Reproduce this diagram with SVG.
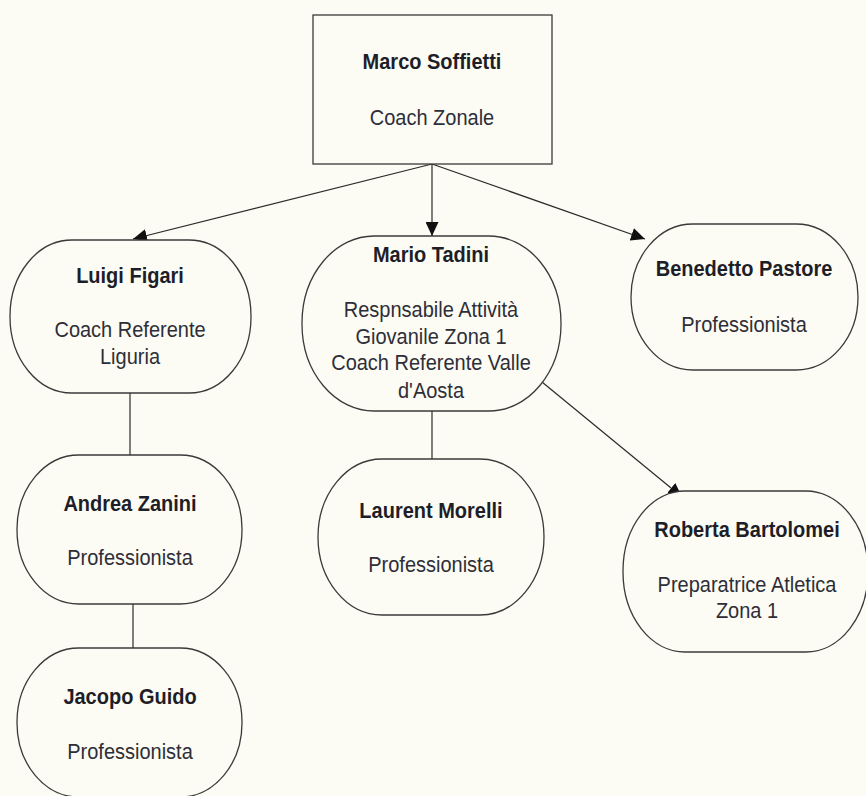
<svg xmlns="http://www.w3.org/2000/svg" width="866" height="796" viewBox="0 0 866 796">
<style>
.bg{fill:#fcfcf4}
.node{fill:#fcfcf4;stroke:#3a3a3a;stroke-width:1.3}
.con{stroke:#2a2a2a;stroke-width:1.2;fill:none}
.name{font-family:"Liberation Sans",Arial,sans-serif;font-size:20px;font-weight:bold;fill:#1e1e28;text-anchor:middle}
.role{font-family:"Liberation Sans",Arial,sans-serif;font-size:20px;fill:#2e2e38;text-anchor:middle}
</style>
<defs>
<marker id="arr" markerUnits="userSpaceOnUse" markerWidth="15" markerHeight="13" refX="14" refY="6.5" orient="auto">
<path d="M0,0 L14,6.5 L0,13 z" fill="#111"/>
</marker>
</defs>
<rect class="bg" x="0" y="0" width="866" height="796"/>
<g id="connectors">
<line class="con" x1="432" y1="164" x2="133" y2="239" marker-end="url(#arr)"/>
<line class="con" x1="432" y1="164" x2="432" y2="236" marker-end="url(#arr)"/>
<line class="con" x1="432" y1="164" x2="645" y2="239" marker-end="url(#arr)"/>
<line class="con" x1="542" y1="382" x2="682" y2="497" marker-end="url(#arr)"/>
<line class="con" x1="130" y1="393" x2="130" y2="455"/>
<line class="con" x1="133" y1="604" x2="133" y2="648"/>
<line class="con" x1="432" y1="411" x2="432" y2="459"/>
</g>
<g id="marco">
<rect class="node" x="313" y="15" width="239" height="149"/>
<text class="name" transform="translate(432 69) scale(1 1.12)">Marco Soffietti</text>
<text class="role" transform="translate(432 125) scale(1 1.12)">Coach Zonale</text>
</g>
<g id="luigi">
<rect class="node" x="10" y="240" width="241" height="153" rx="62" ry="76"/>
<text class="name" transform="translate(130 283) scale(1 1.12)">Luigi Figari</text>
<text class="role" transform="translate(130 337) scale(1 1.12)">Coach Referente</text>
<text class="role" transform="translate(130 364) scale(1 1.12)">Liguria</text>
</g>
<g id="mario">
<rect class="node" x="302" y="236" width="259" height="175" rx="72" ry="87"/>
<text class="name" transform="translate(431 262) scale(1 1.12)">Mario Tadini</text>
<text class="role" transform="translate(431 317) scale(1 1.12)">Respnsabile Attività</text>
<text class="role" transform="translate(431 344) scale(1 1.12)">Giovanile Zona 1</text>
<text class="role" transform="translate(431 370) scale(1 1.12)">Coach Referente Valle</text>
<text class="role" transform="translate(431 398) scale(1 1.12)">d'Aosta</text>
</g>
<g id="benedetto">
<rect class="node" x="631" y="224" width="227" height="146" rx="62" ry="73"/>
<text class="name" transform="translate(744 276) scale(1 1.12)">Benedetto Pastore</text>
<text class="role" transform="translate(744 332) scale(1 1.12)">Professionista</text>
</g>
<g id="andrea">
<rect class="node" x="17" y="455" width="225" height="149" rx="62" ry="74"/>
<text class="name" transform="translate(130 511) scale(1 1.12)">Andrea Zanini</text>
<text class="role" transform="translate(130 565) scale(1 1.12)">Professionista</text>
</g>
<g id="jacopo">
<rect class="node" x="17" y="648" width="225" height="149" rx="62" ry="74"/>
<text class="name" transform="translate(130 704) scale(1 1.12)">Jacopo Guido</text>
<text class="role" transform="translate(130 759) scale(1 1.12)">Professionista</text>
</g>
<g id="laurent">
<rect class="node" x="318" y="459" width="226" height="156" rx="64" ry="78"/>
<text class="name" transform="translate(431 518) scale(1 1.12)">Laurent Morelli</text>
<text class="role" transform="translate(431 572) scale(1 1.12)">Professionista</text>
</g>
<g id="roberta">
<rect class="node" x="623" y="491" width="245" height="161" rx="62" ry="80"/>
<text class="name" transform="translate(747 537) scale(1 1.12)">Roberta Bartolomei</text>
<text class="role" transform="translate(747 592) scale(1 1.12)">Preparatrice Atletica</text>
<text class="role" transform="translate(747 618) scale(1 1.12)">Zona 1</text>
</g>
</svg>
